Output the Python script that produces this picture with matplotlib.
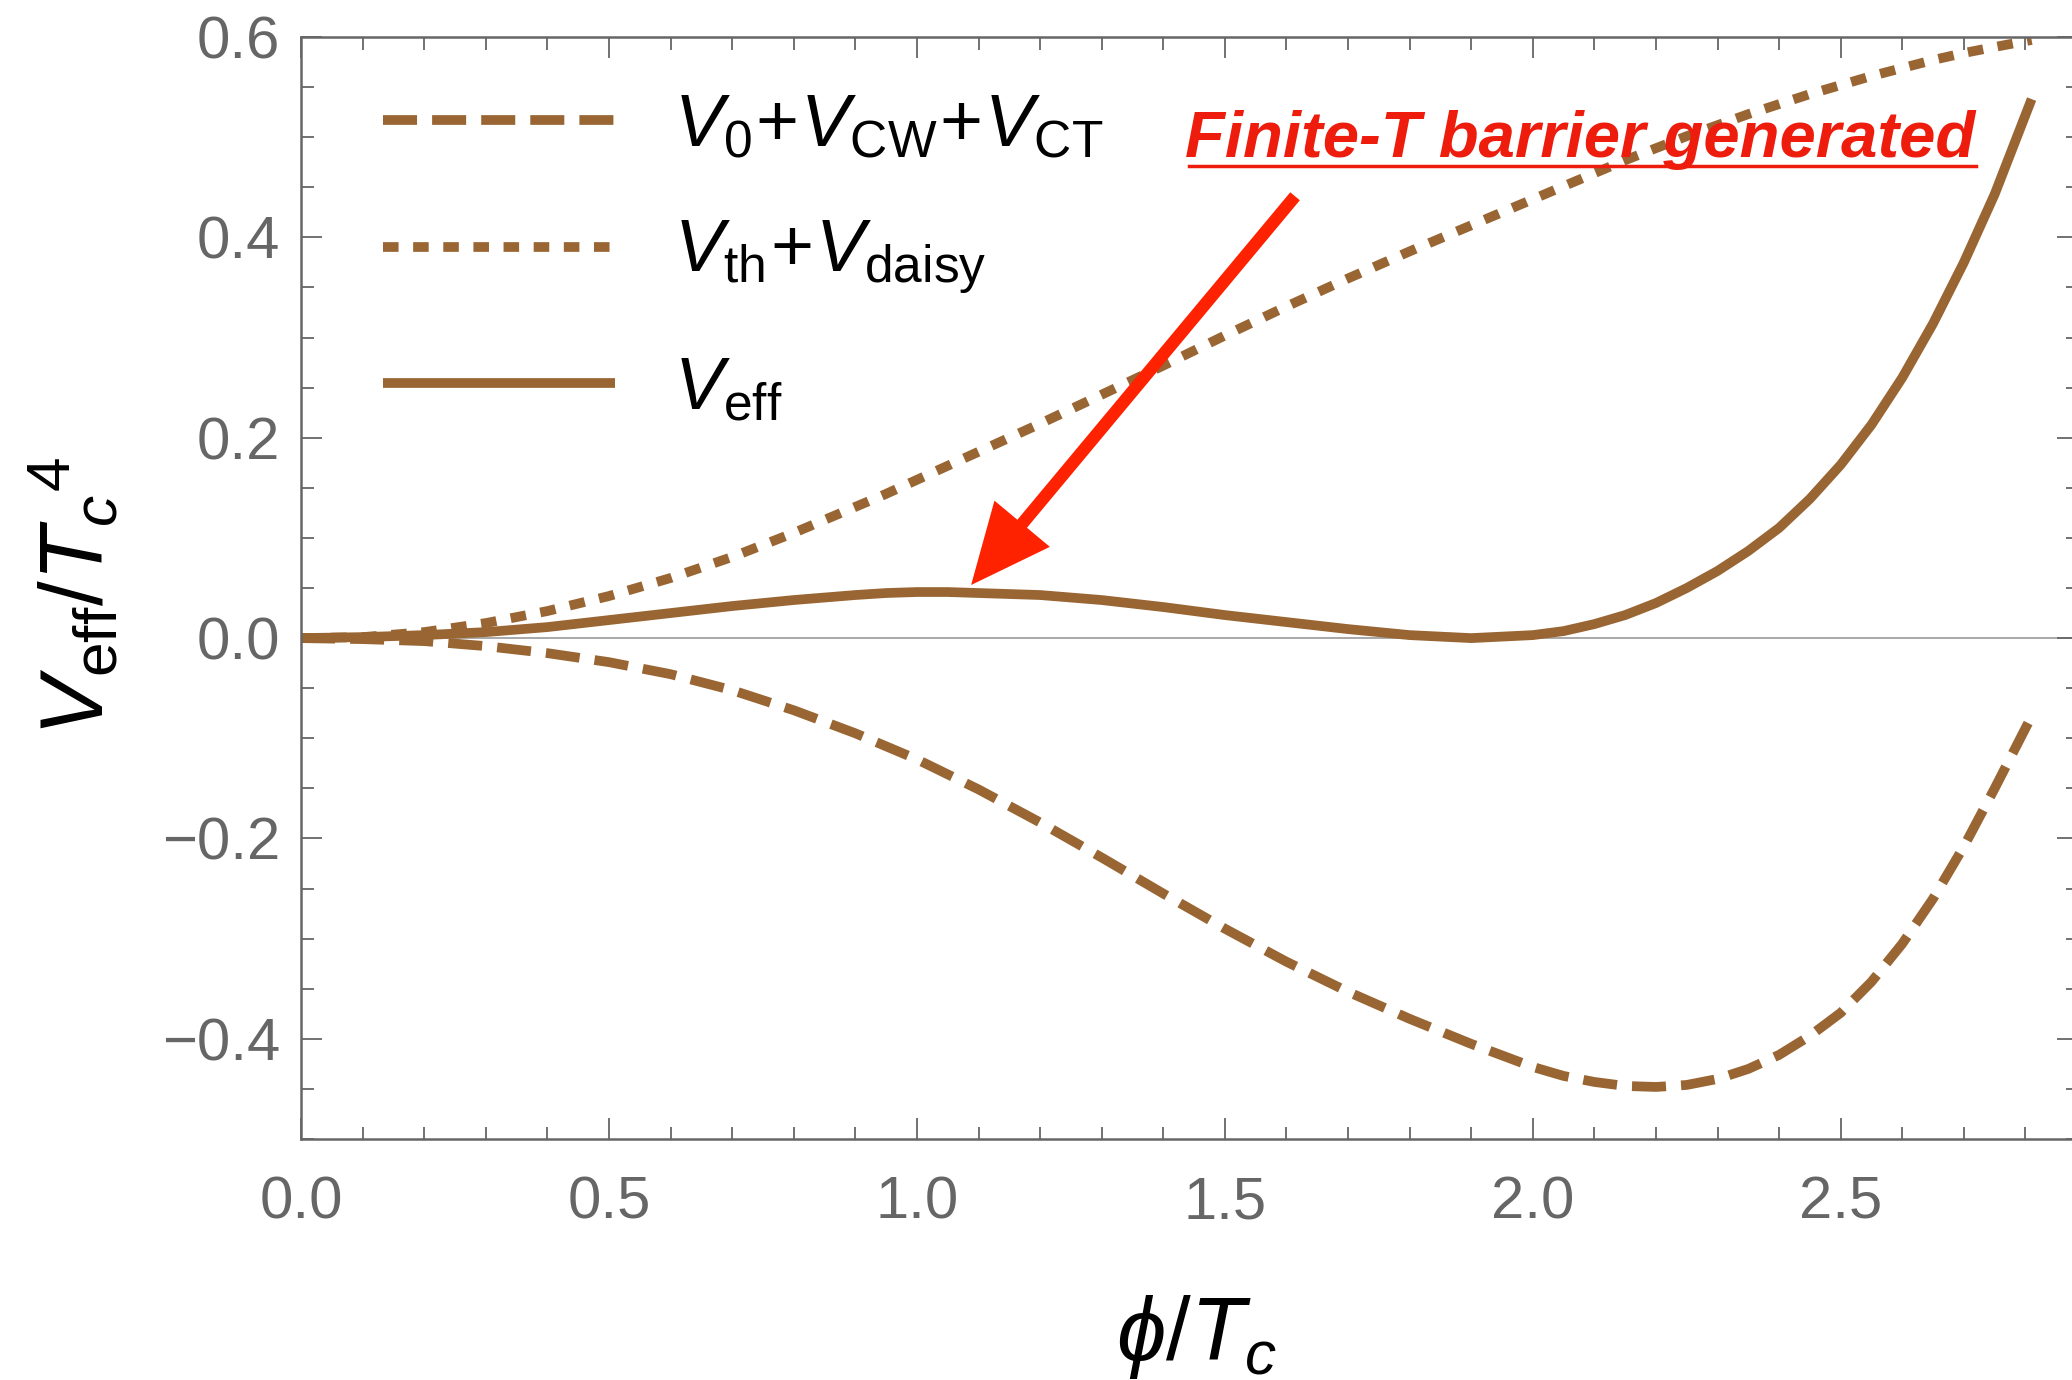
import matplotlib
matplotlib.use("Agg")
import matplotlib.pyplot as plt
from matplotlib.ticker import MultipleLocator

plt.rcParams['font.family'] = ['Liberation Sans', 'DejaVu Sans']
plt.rcParams['mathtext.fontset'] = 'custom'
plt.rcParams['mathtext.rm'] = 'Liberation Sans'
plt.rcParams['mathtext.it'] = 'Liberation Sans:italic'
plt.rcParams['mathtext.bf'] = 'Liberation Sans:bold'
plt.rcParams['mathtext.fallback'] = 'stixsans'

# phi / T_c
phi = [0.0, 0.1, 0.2, 0.3, 0.4, 0.5, 0.6, 0.7, 0.8, 0.9, 0.95, 1.0, 1.05, 1.1, 1.2, 1.3, 1.4,
       1.5, 1.6, 1.7, 1.8, 1.9, 2.0, 2.05, 2.1, 2.15, 2.2, 2.25, 2.3, 2.35, 2.4, 2.45,
       2.5, 2.55, 2.6, 2.65, 2.7, 2.75, 2.81]
# V0 + VCW + VCT  (dashed)
v_tree = [0.000, -0.001, -0.003, -0.008, -0.015, -0.024, -0.036, -0.052, -0.072, -0.095,
          -0.108, -0.121, -0.136, -0.151, -0.184, -0.219, -0.255, -0.290, -0.323, -0.353,
          -0.380, -0.405, -0.428, -0.437, -0.443, -0.447, -0.448, -0.446, -0.440, -0.430,
          -0.416, -0.397, -0.374, -0.343, -0.305, -0.260, -0.208, -0.150, -0.078]
# Vth + Vdaisy  (dotted)
v_therm = [0.000, 0.001, 0.006, 0.015, 0.027, 0.042, 0.060, 0.081, 0.105, 0.131,
           0.144, 0.158, 0.172, 0.186, 0.214, 0.243, 0.272, 0.302, 0.331, 0.359,
           0.386, 0.412, 0.438, 0.451, 0.464, 0.477, 0.489, 0.501, 0.512, 0.523,
           0.533, 0.543, 0.552, 0.561, 0.569, 0.577, 0.584, 0.590, 0.597]
# Veff  (solid)
v_eff = [0.000, 0.001, 0.003, 0.006, 0.011, 0.018, 0.025, 0.032, 0.038, 0.043,
         0.045, 0.046, 0.046, 0.045, 0.043, 0.038, 0.031, 0.023, 0.016, 0.009,
         0.003, 0.000, 0.003, 0.007, 0.014, 0.023, 0.035, 0.050, 0.067, 0.087,
         0.110, 0.139, 0.173, 0.213, 0.260, 0.314, 0.375, 0.443, 0.538]

labels = [r'$V_0\!+\!V_{\rm CW}\!+\!V_{\rm CT}$', r'$V_{\rm th}\!+\!V_{\rm daisy}$', r'$V_{\rm eff}$']
note = 'Finite-T barrier generated'

brown = '#996633'
gray = '#666666'
red = '#ff2200'

fig = plt.figure(figsize=(20.72, 13.8), dpi=100)
ax = fig.add_axes([0.1453, 0.1746, 0.8575, 0.7986])

ax.axhline(0, color='#999999', lw=1.2, zorder=1)
ax.plot(phi, v_tree, color=brown, lw=7, dashes=(3.5, 1.55), label=labels[0])
ax.plot(phi, v_therm, color=brown, lw=7, dashes=(1.6, 1.5), label=labels[1])
ax.plot(phi, v_eff, color=brown, lw=7, solid_capstyle='butt', label=labels[2])

ax.set_xlim(0, 2.885)
ax.set_ylim(-0.5, 0.6)
ax.xaxis.set_major_locator(MultipleLocator(0.5))
ax.xaxis.set_minor_locator(MultipleLocator(0.1))
ax.yaxis.set_major_locator(MultipleLocator(0.2))
ax.yaxis.set_minor_locator(MultipleLocator(0.05))
ax.tick_params(which='both', direction='in', top=True, right=True, color=gray,
               labelcolor=gray, labelsize=43, width=1.3)
ax.tick_params(which='major', length=15)
ax.tick_params(which='minor', length=9)
ax.tick_params(axis='x', pad=26)
ax.tick_params(axis='y', pad=15)
ax.xaxis.set_major_formatter(lambda v, p: f'{v:.1f}')
ax.yaxis.set_major_formatter(lambda v, p: f'{v:.1f}'.replace('-', '\u2212'))
for s in ax.spines.values():
    s.set_color(gray)
    s.set_linewidth(1.8)

fig.text(1196 / 2072, 1 - 1360 / 1380, r'$\phi/T_c$', fontsize=64, ha='center', va='baseline')
fig.text(75 / 2072, 1 - 597 / 1380, r'$V_{\rm eff}/{T_c}^4$', fontsize=64, rotation=90,
         ha='center', va='center')

leg = ax.legend(loc='upper left', bbox_to_anchor=(0.046, 0.95), frameon=False,
                fontsize=53, handlelength=3.15, handletextpad=0.8, labelspacing=0.78,
                borderaxespad=0, borderpad=0)

ax.annotate('', xy=(1.088, 0.053), xytext=(1.614, 0.441),
            arrowprops=dict(arrowstyle='-|>,head_length=42,head_width=19', mutation_scale=1,
                            lw=9, color=red, shrinkA=0, shrinkB=0, capstyle='butt',
                            joinstyle='miter'))
txt = ax.text(1.436, 0.48, note, color='#ee1c0c', fontsize=47, fontweight='bold',
              fontstyle='italic', ha='left', va='baseline')

fig.canvas.draw()
bb = txt.get_window_extent().transformed(ax.transAxes.inverted())
_, yb = ax.transAxes.inverted().transform(ax.transData.transform((1.436, 0.48)))
yu = yb - 9 / (0.7986 * 1380)
ax.plot([bb.x0 + 0.002, bb.x1], [yu, yu], color='#ee1c0c', lw=2.5, transform=ax.transAxes,
        clip_on=False)

fig.savefig('out.png', dpi=100)
